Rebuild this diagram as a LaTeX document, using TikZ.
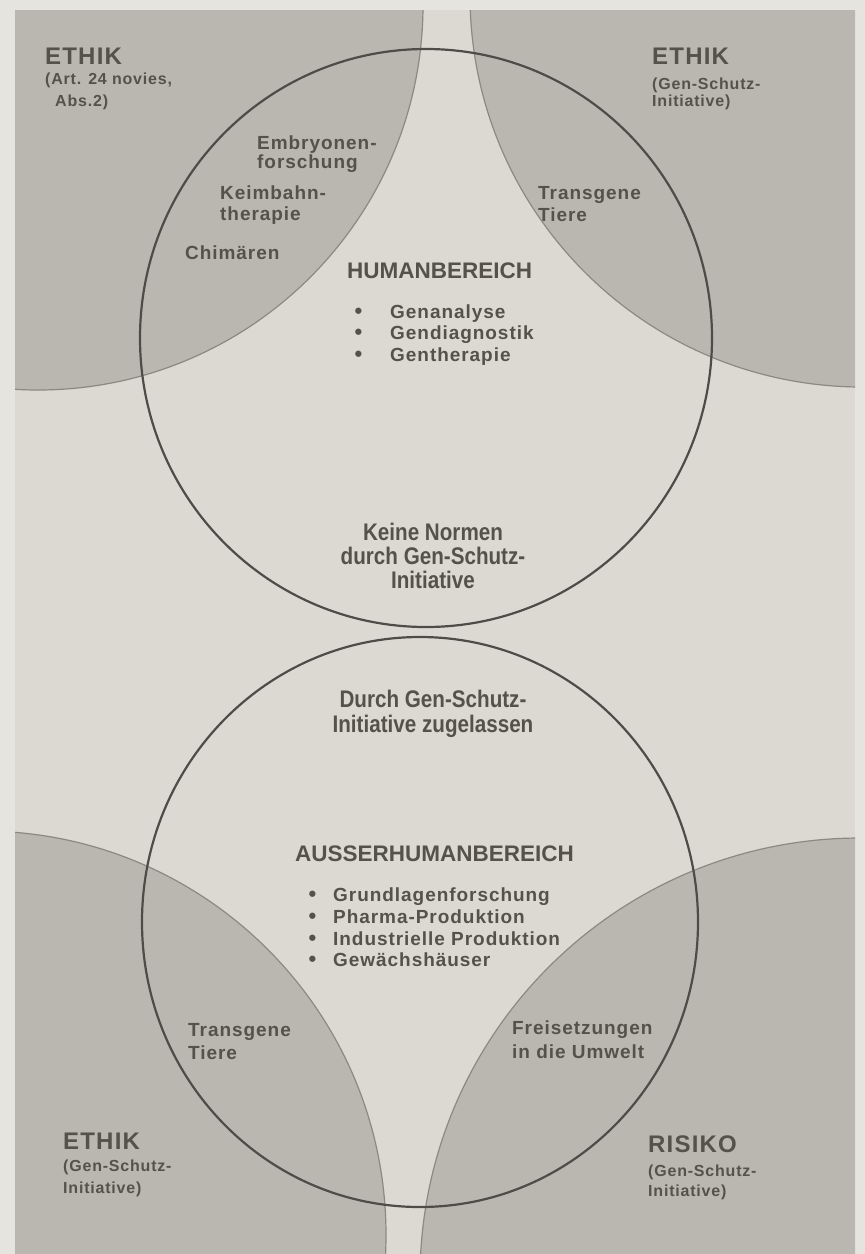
\documentclass[tikz,border=0pt]{standalone}
\usepackage{fontspec}
\setmainfont{Liberation Sans}
\newfontfamily\lsfont[LetterSpace=5]{Liberation Sans}
\newfontfamily\condfont[FakeStretch=0.86]{Liberation Sans}
\definecolor{margin}{HTML}{E6E4DE}
\definecolor{paper}{HTML}{DCD9D2}
\definecolor{shade}{HTML}{BAB7B0}
\definecolor{shadeedge}{HTML}{8C8983}
\definecolor{ringc}{HTML}{4F4C48}
\definecolor{ink}{HTML}{55514B}
\newcommand{\bul}[1]{\makebox[#1][l]{\raisebox{-0.5pt}{\fontsize{22}{22}\selectfont\textbullet}}}
\begin{document}
\begin{tikzpicture}[x=1pt,y=-1pt,
  lbl/.style={inner sep=0pt, text=ink, anchor=base west},
  big/.style={lbl, font=\lsfont\bfseries\fontsize{24}{28}\selectfont},
  small/.style={lbl, font=\lsfont\bfseries\fontsize{16}{20}\selectfont},
  item/.style={lbl, font=\lsfont\bfseries\fontsize{19}{22}\selectfont},
  head/.style={lbl, font=\bfseries\fontsize{22.5}{26}\selectfont},
  condtext/.style={inner sep=0pt, text=ink, anchor=base, font=\condfont\bfseries\fontsize{24}{28}\selectfont},
  ring/.style={draw=ringc, line width=2.2pt},
  zone/.style={fill=shade, draw=shadeedge, line width=1.2pt}]
\useasboundingbox (0,0) rectangle (865,1254);
\fill[margin] (0,0) rectangle (865,1254);
\fill[paper] (15,10) rectangle (855,1254);
\begin{scope}
  \clip (15,10) rectangle (855,1254);
  \draw[zone] (38,5) circle[radius=385pt];
  \draw[zone] (862,-5) circle[radius=392pt];
  \draw[zone] (-18,1235) circle[radius=404pt];
  \draw[zone] (860,1278) circle[radius=440pt];
\end{scope}
\draw[ring] (426,338) circle[x radius=286pt, y radius=289pt];
\draw[ring] (420,922) circle[x radius=278pt, y radius=285pt];

% top left
\node[big] (ethikTL) at (45,64) {ETHIK};
\node[small] (ethikTLa) at (45,84) {(Art. 24 novies,};
\node[small] (ethikTLb) at (55,106) {Abs.2)};
% top right
\node[big] (ethikTR) at (652,64) {ETHIK};
\node[small] (ethikTRa) at (652,89) {(Gen-Schutz-};
\node[small] (ethikTRb) at (652,106) {Initiative)};
% top circle gray parts
\node[item] (emb1) at (257,149) {Embryonen-};
\node[item] (emb2) at (257,168) {forschung};
\node[item] (keim1) at (220,199) {Keimbahn-};
\node[item] (keim2) at (220,220) {therapie};
\node[item] (chim) at (185,259) {Chimären};
\node[item] (trT1) at (538,199) {Transgene};
\node[item] (trT2) at (538,221) {Tiere};
% humanbereich
\node[head] (human) at (347,278) {HUMANBEREICH};
\node[item] (h1) at (354.5,318) {\bul{35.5pt}Genanalyse};
\node[item] (h2) at (354.5,339) {\bul{35.5pt}Gendiagnostik};
\node[item] (h3) at (354.5,361) {\bul{35.5pt}Gentherapie};
\node[condtext] (kn1) at (433,540) {Keine Normen};
\node[condtext] (kn2) at (433,564) {durch Gen-Schutz-};
\node[condtext] (kn3) at (433,588) {Initiative};
% ausserhumanbereich
\node[condtext] (dg1) at (433,707) {Durch Gen-Schutz-};
\node[condtext] (dg2) at (433,732) {Initiative zugelassen};
\node[head] (ausser) at (295,861) {AUSSERHUMANBEREICH};
\node[item] (a1) at (308.5,901) {\bul{24.5pt}Grundlagenforschung};
\node[item] (a2) at (308.5,923) {\bul{24.5pt}Pharma-Produktion};
\node[item] (a3) at (308.5,945) {\bul{24.5pt}Industrielle Produktion};
\node[item] (a4) at (308.5,966) {\bul{24.5pt}Gewächshäuser};
\node[item] (trB1) at (188,1036) {Transgene};
\node[item] (trB2) at (188,1059) {Tiere};
\node[item] (frei1) at (512,1034) {Freisetzungen};
\node[item] (frei2) at (512,1058) {in die Umwelt};
% bottom left
\node[big] (ethikBL) at (63,1149) {ETHIK};
\node[small] (ethikBLa) at (63,1171) {(Gen-Schutz-};
\node[small] (ethikBLb) at (63,1193) {Initiative)};
% bottom right
\node[big] (risiko) at (648,1152) {RISIKO};
\node[small] (risikoa) at (648,1176) {(Gen-Schutz-};
\node[small] (risikob) at (648,1196) {Initiative)};
\end{tikzpicture}
\end{document}
